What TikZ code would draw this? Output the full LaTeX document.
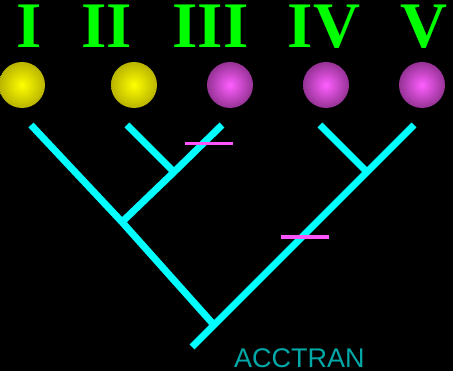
\documentclass[tikz,border=0pt]{standalone}
\usepackage{fontspec}
\setmainfont{Liberation Serif}
\newfontfamily\tagfont{Liberation Sans}
\usetikzlibrary{positioning, calc}
\definecolor{numgreen}{RGB}{0,255,0}
\definecolor{branch}{RGB}{0,255,255}
\definecolor{change}{RGB}{255,85,255}
\definecolor{tagteal}{RGB}{0,168,168}
\definecolor{yelin}{RGB}{255,255,0}
\definecolor{yelout}{RGB}{185,180,0}
\definecolor{magin}{RGB}{255,95,255}
\definecolor{magout}{RGB}{150,50,150}

\begin{document}
\begin{tikzpicture}[x=1pt, y=-1pt,
  taxon/.style={text=numgreen, anchor=base, inner sep=0pt, text height=43pt, text depth=0pt, font=\fontsize{65}{65}\selectfont\bfseries},
  ball/.style={circle, minimum size=46pt, inner sep=0pt},
  yelball/.style={ball, inner color=yelin, outer color=yelout},
  magball/.style={ball, inner color=magin, outer color=magout},
  edge/.style={branch, line width=7pt},
  stepmark/.style={change, line width=3.5pt}]
  \useasboundingbox (0,0) rectangle (453,371);
  \fill[black] (0,0) rectangle (453,371);
  % taxa
  \node[taxon] (lI)   at (29.5,48) {I};
  \node[taxon] (lII)  at (107,48)  {II};
  \node[taxon] (lIII) at (210.5,48) {III};
  \node[taxon] (lIV)  at (324,48)  {IV};
  \node[taxon] (lV)   at (424,48)  {V};
  % character states
  \node[yelball] (bI)   at (22,85)  {};
  \node[yelball] (bII)  at (134,85) {};
  \node[magball] (bIII) at (230,85) {};
  \node[magball] (bIV)  at (326,85) {};
  \node[magball] (bV)   at (422,85) {};
  % tree
  \coordinate (tI)   at (31,125);
  \coordinate (tII)  at (127,125);
  \coordinate (tIII) at (222,125);
  \coordinate (tIV)  at (320,125);
  \coordinate (tV)   at (414,125);
  \coordinate (nII)  at (174,172);
  \coordinate (nIV)  at (367,172);
  \coordinate (nI)   at (122,222);
  \coordinate (root) at (214,325);
  \coordinate (base) at (192,347);
  \draw[edge] (tI) -- (nI) -- (root);
  \draw[edge] (tII) -- (nII);
  \draw[edge] (nI) -- (nII) -- (tIII);
  \draw[edge] (tIV) -- (nIV);
  \draw[edge] (base) -- (root) -- (nIV) -- (tV);
  % state changes
  \coordinate (cA1) at (185,143.3);
  \coordinate (cA2) at (233,143.3);
  \coordinate (cB1) at (281,237);
  \coordinate (cB2) at (329,237);
  \draw[stepmark] (cA1) -- (cA2);
  \draw[stepmark] (cB1) -- (cB2);
  \node[tagteal, anchor=base west, inner sep=0pt, font=\tagfont\fontsize{27}{27}\selectfont] (tag) at (234,368) {ACCTRAN};
\end{tikzpicture}
\end{document}
